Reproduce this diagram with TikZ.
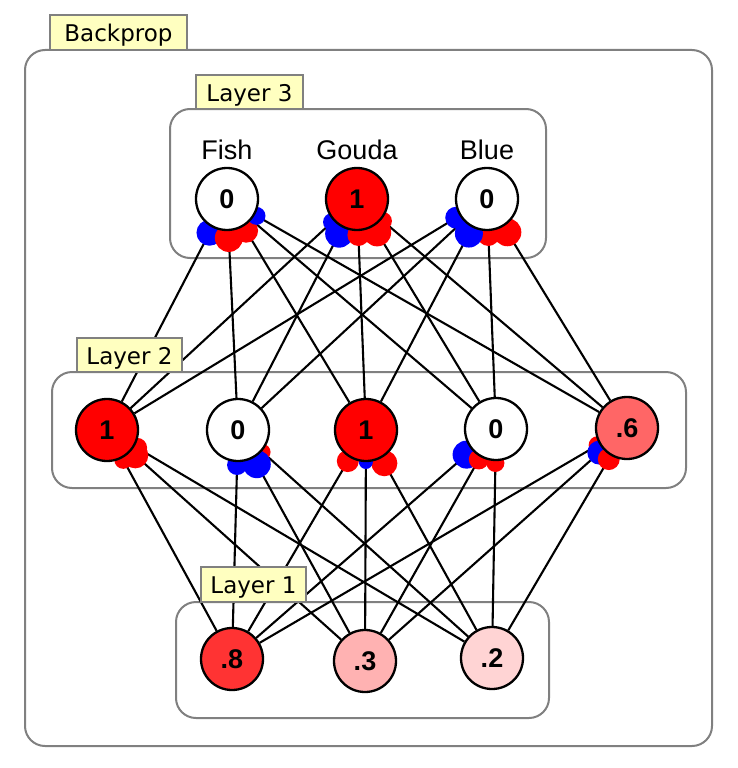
\documentclass[tikz,border=0pt]{standalone}
\usepackage{fontspec}
\setmainfont{Liberation Sans}
\newfontfamily\tabfont{DejaVu Sans}
\usetikzlibrary{calc,positioning}
\pgfdeclarelayer{boxes}
\pgfdeclarelayer{wires}
\pgfdeclarelayer{blobs}
\pgfdeclarelayer{tabs}
\pgfsetlayers{boxes,wires,blobs,main,tabs}
\definecolor{boxgray}{RGB}{128,128,128}
\definecolor{tabyellow}{RGB}{255,255,192}
\definecolor{posred}{RGB}{255,0,0}
\definecolor{negblue}{RGB}{0,0,255}

\begin{document}
\begin{tikzpicture}[x=1pt,y=-1pt,
  unit/.style={circle,draw=black,line width=2.3pt,minimum size=62pt,inner sep=0pt,
    font=\fontsize{27}{29}\selectfont\bfseries},
  outlabel/.style={inner sep=0pt,font=\fontsize{27}{30}\selectfont},
  wire/.style={line width=2.1pt},
  layerbox/.style={draw=boxgray,line width=2pt,rounded corners=20pt},
  tab/.style={draw=boxgray,fill=tabyellow,line width=2pt,inner sep=0pt,
    text height=20pt,text depth=2pt,font=\tabfont\fontsize{23}{26}\selectfont}]
\useasboundingbox (0,0) rectangle (738,768);

\begin{pgfonlayer}{boxes}
\draw[layerbox] (25,50) rectangle (712,746);
\draw[layerbox] (170,109) rectangle (546,258);
\draw[layerbox] (52,372) rectangle (686,488);
\draw[layerbox] (176,602) rectangle (549,718);
\end{pgfonlayer}

\begin{pgfonlayer}{tabs}
\node[tab,minimum width=137pt,minimum height=35pt] (tabBackprop) at (118.5,32.5) {Backprop};
\node[tab,minimum width=107pt,minimum height=34pt] (tabL3) at (249.5,92) {Layer 3};
\node[tab,minimum width=105pt,minimum height=34pt] (tabL2) at (129.5,355) {Layer 2};
\node[tab,minimum width=105pt,minimum height=35pt] (tabL1) at (253.5,584.5) {Layer 1};
\end{pgfonlayer}

% layer 3
\node[unit,fill=white] (fish) at (227,199) {0};
\node[unit,fill=posred] (gouda) at (357,199) {1};
\node[unit,fill=white] (blue) at (487,199) {0};
\node[outlabel,above=7pt of fish] (fishlbl) {Fish};
\node[outlabel,above=7pt of gouda] (goudalbl) {Gouda};
\node[outlabel,above=7pt of blue] (bluelbl) {Blue};

% layer 2
\node[unit,fill=posred] (hid1) at (107,430) {1};
\node[unit,fill=white] (hid2) at (238,430) {0};
\node[unit,fill=posred] (hid3) at (366,430) {1};
\node[unit,fill=white] (hid4) at (496,429) {0};
\node[unit,fill=red!60] (hid5) at (627,428) {.6};

% layer 1
\node[unit,fill=red!80] (in1) at (232,659) {.8};
\node[unit,fill=red!30] (in2) at (365,661) {.3};
\node[unit,fill=red!17] (in3) at (492,658) {.2};

\begin{pgfonlayer}{wires}
\foreach \a in {fish,gouda,blue}
  \foreach \b in {hid1,hid2,hid3,hid4,hid5}
    \draw[wire] (\a) -- (\b);
\foreach \a in {hid1,hid2,hid3,hid4,hid5}
  \foreach \b in {in1,in2,in3}
    \draw[wire] (\a) -- (\b);
\end{pgfonlayer}

\begin{pgfonlayer}{blobs}
\foreach \src/\dst/\col/\rad [evaluate=\rad as \dist using \rad+25] in {
  fish/hid1/negblue/13, fish/hid2/posred/14, fish/hid3/posred/12, fish/hid5/negblue/9,
  gouda/hid1/negblue/9, gouda/hid2/negblue/14, gouda/hid3/posred/11, gouda/hid4/posred/14, gouda/hid5/posred/9,
  blue/hid2/posred/9, blue/hid1/negblue/11, blue/hid4/posred/11, blue/hid5/posred/14, blue/hid3/negblue/14,
  hid1/in1/posred/9, hid1/in2/posred/13, hid1/in3/posred/10,
  hid2/in3/posred/8, hid2/in1/negblue/10, hid2/in2/negblue/14,
  hid3/in1/posred/11, hid3/in3/posred/13, hid3/in2/negblue/7,
  hid4/in1/negblue/14, hid4/in2/posred/10, hid4/in3/posred/9,
  hid5/in1/posred/9, hid5/in2/negblue/12, hid5/in3/posred/11}
  \fill[\col] ($(\src)!\dist pt!(\dst)$) circle (\rad pt);
\end{pgfonlayer}
\end{tikzpicture}
\end{document}
